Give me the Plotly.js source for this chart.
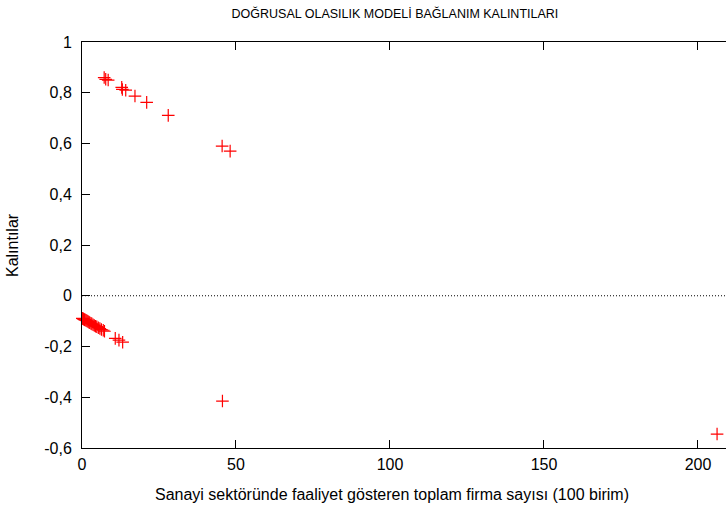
<!DOCTYPE html>
<html>
<head>
<meta charset="utf-8">
<script src="https://cdn.plot.ly/plotly-3.0.1.min.js"></script>
<style>html,body{margin:0;padding:0;background:#fff;overflow:hidden}</style>
</head>
<body>
<div id="chart" style="width:726px;height:513px"></div>
<script>
// Residuals
var firmsUpper = [7.2, 7.7, 8.5, 12.9, 13.1, 14.2, 17.2, 21.0, 28.0, 45.5, 48.1];
var residUpper = [0.860, 0.853, 0.850, 0.821, 0.813, 0.810, 0.787, 0.762, 0.711, 0.590, 0.570];

var firmsLower = [0.1, 0.3, 0.5, 0.8, 1.0, 1.3, 1.6, 1.9, 2.2, 2.5, 2.9, 3.2, 3.6, 4.0, 4.4, 4.8, 5.3, 5.8, 6.3, 6.9, 7.3, 10.8, 12.0, 13.2];
var residLower = [-0.089, -0.090, -0.092, -0.094, -0.095, -0.097, -0.099, -0.101, -0.104, -0.106, -0.109, -0.111, -0.114, -0.117, -0.120, -0.122, -0.126, -0.129, -0.133, -0.136, -0.140, -0.168, -0.175, -0.183];

var firmsOutlier = [45.6, 206.2];
var residOutlier = [-0.415, -0.545];

var xTickVals = [0, 50, 100, 150, 200];
var xTickText = ['0', '50', '100', '150', '200'];
var yTickVals = [-0.6, -0.4, -0.2, 0, 0.2, 0.4, 0.6, 0.8, 1];
var yTickText = ['-0,6', '-0,4', '-0,2', '0', '0,2', '0,4', '0,6', '0,8', '1'];

var xTitle = 'Sanayi sektöründe faaliyet gösteren toplam firma sayısı (100 birim)';
var yTitle = 'Kalıntılar';
var chartTitle = 'DOĞRUSAL OLASILIK MODELİ BAĞLANIM KALINTILARI';

var xs = firmsUpper.concat(firmsLower, firmsOutlier);
var ys = residUpper.concat(residLower, residOutlier);

var fam = '"Liberation Sans", Arial, sans-serif';
var font = {family: fam, size: 16, color: '#000'};
var titleFont = {family: fam, size: 12.5, color: '#000'};

var trace = {
  x: xs, y: ys, type: 'scatter', mode: 'markers', cliponaxis: false,
  marker: {symbol: 'cross-thin', size: 9, color: '#ff0000', line: {color: '#ff0000', width: 1.2}},
  hoverinfo: 'x+y', showlegend: false
};

var layout = {
  width: 726, height: 513,
  margin: {l: 82, r: 0, t: 42, b: 65},
  paper_bgcolor: '#fff', plot_bgcolor: '#fff',
  font: font,
  title: {text: chartTitle, font: titleFont,
          x: 0.544, xref: 'container', xanchor: 'center', y: 0.973, yref: 'container', yanchor: 'middle'},
  xaxis: {
    range: [0, 209.1], tickvals: xTickVals, ticktext: xTickText,
    ticks: 'inside', ticklen: 8, tickcolor: '#000', tickwidth: 1,
    showline: true, linecolor: '#000', linewidth: 1, mirror: 'ticks',
    showgrid: false, zeroline: false, tickfont: font, ticklabelstandoff: 2
  },
  yaxis: {
    range: [-0.6, 1], tickvals: yTickVals, ticktext: yTickText,
    ticks: 'inside', ticklen: 8, tickcolor: '#000', tickwidth: 1,
    showline: true, linecolor: '#000', linewidth: 1, mirror: false,
    showgrid: false, zeroline: false, tickfont: font, ticklabelstandoff: 6
  },
  annotations: [
    {text: xTitle, font: font, showarrow: false, xref: 'paper', x: (392 - 82) / 644, xanchor: 'center',
     yref: 'paper', y: -(494 - 448) / 406, yanchor: 'middle'},
    {text: yTitle, font: font, showarrow: false, textangle: -90, xref: 'paper', x: -(82 - 12) / 644, xanchor: 'center',
     yref: 'paper', y: 0.5, yanchor: 'middle'}
  ],
  shapes: [{type: 'line', xref: 'paper', x0: 0, x1: 1, yref: 'y', y0: 0, y1: 0,
            line: {color: '#000', width: 1, dash: '1px,2px'}, layer: 'below'}]
};

Plotly.newPlot('chart', [trace], layout, {displayModeBar: false, staticPlot: true});
</script>
</body>
</html>
